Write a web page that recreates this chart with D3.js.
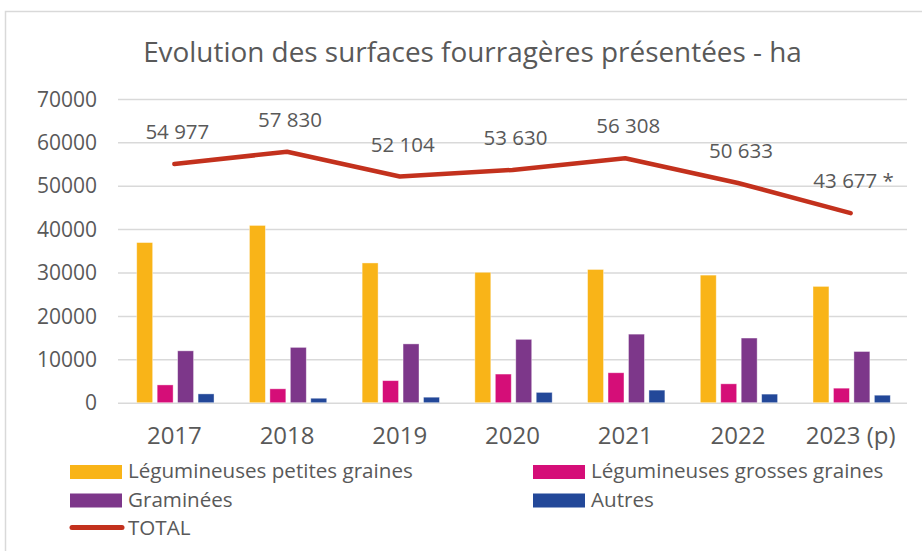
<!DOCTYPE html>
<html><head><meta charset="utf-8">
<script src="https://cdn.jsdelivr.net/npm/d3@7"></script>
<style>
html,body{margin:0;padding:0;background:#fff;}
svg text{font-family:"Open Sans",sans-serif;fill:#595959;}
</style></head>
<body>
<svg id="c" width="922" height="551"></svg>
<script>
const categories = ["2017","2018","2019","2020","2021","2022","2023 (p)"];
const seriesNames = ["Légumineuses petites graines","Légumineuses grosses graines","Graminées","Autres"];
const seriesColors = ["#F9B418","#D50E78","#7D378A","#234899"];
const legPetites = [36900,40850,32200,30050,30700,29400,26800];
const legGrosses = [4100,3200,5080,6600,6900,4350,3350];
const graminees  = [11950,12750,13550,14600,15800,14900,11800];
const autres     = [2030,1030,1270,2380,2900,1980,1730];
const totals     = [54977,57830,52104,53630,56308,50633,43677];
const totalLabels = ["54 977","57 830","52 104","53 630","56 308","50 633","43 677 *"];
const yTicks = [0,10000,20000,30000,40000,50000,60000,70000];
const title = "Evolution des surfaces fourragères présentées - ha";
const totalName = "TOTAL";
const totalColor = "#C3311D";

const seriesValues = [legPetites, legGrosses, graminees, autres];

const svg = d3.select("#c");
// frame
svg.append("rect").attr("x",5.5).attr("y",11.5).attr("width",940).attr("height",560)
  .attr("fill","none").attr("stroke","#d9d9d9").attr("stroke-width",1.5);

const pLeft = 118, pRight = 907, pTop = 98.9, pBottom = 402.7;
const x0 = d3.scaleBand().domain(categories).range([pLeft,pRight]).padding(0);
const bw = x0.bandwidth();
const x1 = d3.scaleBand().domain(d3.range(4)).range([bw*0.166, bw*0.852]).paddingInner(0.22).paddingOuter(0);
const y = d3.scaleLinear().domain([0,70000]).range([pBottom,pTop]);

// title
svg.append("text").attr("x",472.5).attr("y",62).attr("text-anchor","middle")
  .style("font-size","27.9px").text(title);

// grid
const yAxis = d3.axisLeft(y).tickValues(yTicks).tickSize(-(pRight-pLeft)).tickPadding(21).tickFormat(d3.format("d"));
const gy = svg.append("g").attr("transform",`translate(${pLeft},0)`).call(yAxis);
gy.select(".domain").remove();
gy.selectAll(".tick line").attr("stroke","#d9d9d9").attr("stroke-width",1.5);
gy.selectAll(".tick text").style("font-size","21px").attr("fill","#595959").attr("dy","0.34em");

// bars
const bars = svg.append("g");
categories.forEach((c,i)=>{
  seriesValues.forEach((vals,s)=>{
    bars.append("rect")
      .attr("x", x0(c)+x1(s))
      .attr("y", y(vals[i]))
      .attr("width", x1.bandwidth())
      .attr("height", y(0)-y(vals[i]))
      .attr("fill", seriesColors[s])
      .attr("stroke","#fff").attr("stroke-opacity",0.5).attr("stroke-width",0.8);
  });
});

// x axis labels
const xAxis = d3.axisBottom(x0).tickSize(0).tickPadding(24);
const gx = svg.append("g").attr("transform",`translate(0,${pBottom})`).call(xAxis);
gx.select(".domain").remove();
gx.selectAll(".tick text").style("font-size","24px").attr("fill","#595959");

// total line
const line = d3.line().x((d,i)=>x0(categories[i])+bw/2).y(d=>y(d));
svg.append("path").datum(totals).attr("d",line).attr("fill","none")
  .attr("stroke",totalColor).attr("stroke-width",4.5).attr("stroke-linecap","round").attr("stroke-linejoin","round");

// total labels
svg.append("g").selectAll("text").data(totals).join("text")
  .attr("x",(d,i)=>x0(categories[i])+bw/2+3)
  .attr("y",d=>y(d)-25)
  .attr("text-anchor","middle").style("font-size","20.5px")
  .text((d,i)=>totalLabels[i]);

// legend
const leg = svg.append("g");
const legPos = [[70,465],[533,465],[70,493.5],[533,493.5]];
seriesNames.forEach((n,s)=>{
  const [lx,ly] = legPos[s];
  leg.append("rect").attr("x",lx).attr("y",ly).attr("width",52).attr("height",14).attr("fill",seriesColors[s]);
  leg.append("text").attr("x",lx+58).attr("y",ly+13).style("font-size","20.6px").text(n);
});
leg.append("line").attr("x1",72).attr("x2",122).attr("y1",527.5).attr("y2",527.5)
  .attr("stroke",totalColor).attr("stroke-width",5).attr("stroke-linecap","round");
leg.append("text").attr("x",128).attr("y",534.5).style("font-size","20.6px").text(totalName);
</script>
</body></html>
